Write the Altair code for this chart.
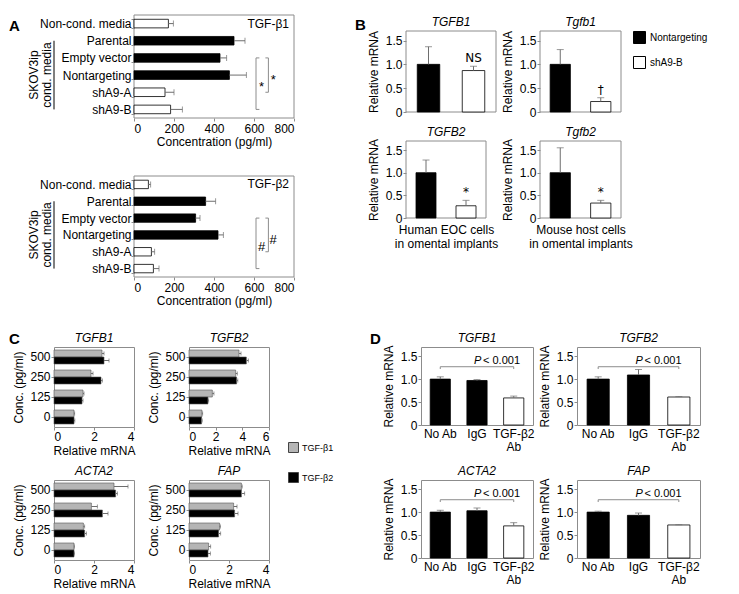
import altair as alt
import pandas as pd

FONT = "Liberation Sans"
GRAY = "#8c8c8c"
ERRC = "#6e6e6e"
NOBOX = alt.ViewBackground(stroke="transparent")

# ---------------- Panel A : TGF-beta ELISA ----------------
A_LABELS = ["Non-cond. media", "Parental", "Empty vector", "Nontargeting", "shA9-A", "shA9-B"]
A_SOLID = ["Parental", "Empty vector", "Nontargeting"]
A1_MEAN = [172, 500, 430, 477, 155, 183]
A1_HI = [197, 555, 463, 562, 200, 242]
A2_MEAN = [72, 358, 308, 420, 87, 97]
A2_HI = [83, 408, 330, 447, 103, 125]
A_DOMAIN = [0, 800]
A_TICKS = [0, 200, 400, 600, 800]
A_TITLES = ["TGF-β1", "TGF-β2"]
A_SIG = ["*", "#"]
A_GROUP_LABEL = ["SKOV3ip", "cond. media"]
A_BR_X = [610, 672]          # outer, inner bracket (pg/ml)
A_BR_TIP = [627, 657]
A_BR_FROM = ["Empty vector", "Empty vector"]
A_BR_TO = ["shA9-B", "shA9-A"]
A_SIG_X = [638, 696]

# ---------------- Panel B : in vivo qPCR ----------------
B_GROUPS = ["Nontargeting", "shA9-B"]
B_GENES = ["TGFB1", "Tgfb1", "TGFB2", "Tgfb2"]
B_MEAN = [[1.0, 0.87], [1.0, 0.22], [1.0, 0.27], [1.0, 0.33]]
B_HI = [[1.37, 0.96], [1.31, 0.30], [1.28, 0.39], [1.55, 0.39]]
B_MARK = ["NS", "†", "*", "*"]
B_XTITLE = [["Human EOC cells", "in omental implants"],
            ["Mouse host cells", "in omental implants"]]
REL_TICKS = [0, 0.5, 1.0, 1.5]

# ---------------- Panel C : dose response ----------------
C_CONC = ["500", "250", "125", "0"]
C_TREAT = ["TGF-β1", "TGF-β2"]
C_GENES = ["TGFB1", "TGFB2", "ACTA2", "FAP"]
C_XMAX = [4, 6, 4, 4]
C_B1_MEAN = [[2.4, 1.85, 1.45, 1.0], [3.75, 3.5, 1.75, 0.97], [3.0, 1.87, 1.47, 1.0], [2.62, 2.23, 1.53, 0.98]]
C_B1_HI = [[2.5, 1.95, 1.5, 1.03], [3.9, 3.62, 1.87, 1.02], [3.7, 2.17, 1.53, 1.02], [2.66, 2.4, 1.57, 1.08]]
C_B2_MEAN = [[2.5, 2.35, 1.4, 1.0], [4.3, 3.57, 1.42, 0.94], [3.08, 2.42, 1.53, 1.0], [2.62, 2.28, 1.48, 0.95]]
C_B2_HI = [[2.75, 2.42, 1.45, 1.04], [4.45, 3.66, 1.47, 0.99], [3.17, 2.7, 1.62, 1.02], [2.78, 2.45, 1.58, 1.07]]

# ---------------- Panel D : antibody blocking ----------------
D_CATS = ["No Ab", "IgG", "TGF-β2 Ab"]
D_GENES = ["TGFB1", "TGFB2", "ACTA2", "FAP"]
D_MEAN = [[1.0, 0.97, 0.59], [1.0, 1.09, 0.61], [1.0, 1.03, 0.70], [1.0, 0.93, 0.72]]
D_HI = [[1.05, 0.99, 0.63], [1.05, 1.21, 0.62], [1.04, 1.09, 0.77], [1.02, 0.98, 0.725]]
D_BR_Y = 1.27
D_BR_END = 1.22
D_P_Y = 1.33
D_P = ["P", "< 0.001"]

REL_LABEL = "datum.value == 0 ? '0' : format(datum.value, '.1f')"


def letter(ch, x, y):
    return alt.Chart(pd.DataFrame({"t": [ch]})).mark_text(
        align="left", baseline="top", fontSize=15, fontWeight="bold"
    ).encode(x=alt.value(x), y=alt.value(y), text="t:N")


def head(txt, x, y):
    return alt.Chart(pd.DataFrame({"t": [txt]})).mark_text(
        align="center", baseline="alphabetic", fontSize=12, fontStyle="italic"
    ).encode(x=alt.value(x), y=alt.value(y), text="t:N")


def frame(x0, x1, y0, y1):
    return alt.Chart(pd.DataFrame({"k": [0]})).mark_rect(
        fillOpacity=0, stroke=GRAY, strokeWidth=1
    ).encode(x=alt.value(x0), x2=alt.value(x1), y=alt.value(y0), y2=alt.value(y1))


def rel_axis():
    return alt.Axis(values=REL_TICKS, labelExpr=REL_LABEL, title="Relative mRNA",
                    tickSize=3, labelPadding=1, titlePadding=5)


# ---------- A ----------
A_LEFT = 80      # room inside the unit for the group label, plot starts here
A_PLOT_W = 160


def panel_a(mean, hi, title, sig, height, let=None):
    df = pd.DataFrame({"label": A_LABELS, "mean": mean, "hi": hi})
    xsc = alt.Scale(domain=A_DOMAIN, range=[A_LEFT, A_LEFT + A_PLOT_W], nice=False)
    xax = alt.Axis(values=A_TICKS, title="Concentration (pg/ml)", labelPadding=2,
                   titleX=A_LEFT + A_PLOT_W / 2, titleY=18, titleBaseline="top")
    ysc = alt.Scale(domain=A_LABELS, paddingInner=0.5, paddingOuter=0.25)
    yax = alt.Axis(title=None, tickBand="extent", labelPadding=0, offset=-A_LEFT)

    def X(f):
        return alt.X(f, type="quantitative", scale=xsc, axis=xax)

    def Y(f):
        return alt.Y(f, type="nominal", scale=ysc, axis=yax, sort=A_LABELS)

    box = alt.Chart(pd.DataFrame({"x0": [A_DOMAIN[0]], "x1": [A_DOMAIN[1]]})).mark_rect(
        fillOpacity=0, stroke=GRAY, strokeWidth=1
    ).encode(x=X("x0"), x2="x1", y=alt.value(0), y2=alt.value(height))

    base = alt.Chart(df)
    bars = base.mark_bar(stroke="black", strokeWidth=0.8).encode(
        x=X("mean"), y=Y("label"),
        fill=alt.condition(alt.FieldOneOfPredicate(field="label", oneOf=A_SOLID),
                           alt.value("black"), alt.value("white")))
    err = base.mark_rule(color=ERRC).encode(x=X("mean"), x2="hi", y=Y("label"))
    cap = base.mark_tick(color=ERRC, thickness=1, size=6).encode(x=X("hi"), y=Y("label"))

    br = pd.DataFrame({"x": A_BR_X, "tip": A_BR_TIP, "ylo": A_BR_FROM, "yhi": A_BR_TO})
    bc = alt.Chart(br)
    vline = bc.mark_rule(color=GRAY).encode(x=X("x"), y=Y("ylo"), y2="yhi")
    top = bc.mark_rule(color=GRAY).encode(x=X("x"), x2="tip", y=Y("ylo"))
    bot = bc.mark_rule(color=GRAY).encode(x=X("x"), x2="tip", y=Y("yhi"))

    s1 = alt.Chart(pd.DataFrame({"x": [A_SIG_X[0]], "label": ["Nontargeting"], "t": [sig]})).mark_text(
        fontSize=13, dy=12).encode(x=X("x"), y=Y("label"), text="t:N")
    s2 = alt.Chart(pd.DataFrame({"x": [A_SIG_X[1]], "label": ["Nontargeting"], "t": [sig]})).mark_text(
        fontSize=13, dy=5).encode(x=X("x"), y=Y("label"), text="t:N")

    ttl = alt.Chart(pd.DataFrame({"x": [A_DOMAIN[1]], "label": [A_LABELS[0]], "t": [title]})).mark_text(
        align="right", dx=-5, fontSize=12).encode(x=X("x"), y=Y("label"), text="t:N")

    gdf = alt.Chart(pd.DataFrame({"label": ["Nontargeting"]}))
    g1 = gdf.mark_text(text=A_GROUP_LABEL[0], angle=270, align="center", baseline="middle",
                       fontSize=12).encode(x=alt.value(-20), y=Y("label"))
    g2 = gdf.mark_text(text=A_GROUP_LABEL[1], angle=270, align="center", baseline="middle",
                       fontSize=12).encode(x=alt.value(-7), y=Y("label"))
    grp_line = alt.Chart(pd.DataFrame({"a": ["Parental"], "b": ["shA9-B"]})).mark_rule(color="black").encode(
        x=alt.value(0), y=Y("a"), y2="b")

    layers = [box, bars, err, cap, vline, top, bot, s1, s2, ttl, g1, g2, grp_line]
    if let:
        layers.append(letter(let, -45, 4))
    return alt.layer(*layers).properties(width=A_LEFT + A_PLOT_W, height=height, view=NOBOX)


# ---------- B ----------
B_LEGEND = alt.Legend(title=None, orient="none", legendX=93, legendY=16, symbolType="square",
                      symbolSize=144, symbolStrokeColor="black", symbolStrokeWidth=1,
                      labelFontSize=10, rowPadding=8, labelOffset=4, padding=0)


def panel_b(k, width, box_h, top_gap, xtitle=None, legend=False, let=None):
    height = box_h + top_gap
    df = pd.DataFrame({"group": B_GROUPS, "mean": B_MEAN[k], "hi": B_HI[k]})
    xsc = alt.Scale(domain=B_GROUPS, paddingInner=0.5, paddingOuter=0.25)
    if xtitle is None:
        xax = None
    else:
        xax = alt.Axis(title=xtitle, labels=False, ticks=False, titlePadding=6)
    ysc = alt.Scale(domain=[0, 1.7], range=[height, top_gap], nice=False)
    yax = rel_axis()

    def X(f):
        return alt.X(f, type="nominal", sort=B_GROUPS, scale=xsc, axis=xax)

    def Y(f):
        return alt.Y(f, type="quantitative", scale=ysc, axis=yax)

    base = alt.Chart(df)
    fsc = alt.Scale(domain=B_GROUPS, range=["black", "white"])
    if legend:
        fill = alt.Fill("group:N", scale=fsc, legend=B_LEGEND)
    else:
        fill = alt.Fill("group:N", scale=fsc, legend=None)
    bars = base.mark_bar(stroke="black", strokeWidth=0.8).encode(x=X("group"), y=Y("mean"), fill=fill)
    err = base.mark_rule(color=ERRC).encode(x=X("group"), y=Y("mean"), y2="hi")
    cap = base.mark_tick(color=ERRC, thickness=1, size=7).encode(x=X("group"), y=Y("hi"))
    note = alt.Chart(pd.DataFrame({"group": [B_GROUPS[1]], "hi": [B_HI[k][1]], "t": [B_MARK[k]]})).mark_text(
        baseline="bottom", dy=-1, fontSize=12, font="DejaVu Sans", color="black"
    ).encode(x=X("group"), y=Y("hi"), text="t:N")
    layers = [frame(0, width, top_gap, height), bars, err, cap, note,
              head(B_GENES[k], width / 2, top_gap - 5)]
    if let:
        layers.append(letter(let, -51, top_gap - 13))
    return alt.layer(*layers).properties(width=width, height=height, view=NOBOX)


# ---------- C ----------
C_LEGEND = alt.Legend(title=None, orient="none", legendX=99, legendY=95, symbolType="square",
                      symbolSize=100, symbolStrokeColor="#444", symbolStrokeWidth=1,
                      labelFontSize=9, rowPadding=15, labelOffset=3, padding=0)


def panel_c(k, width, height, legend=False, let=None):
    rows = []
    for j, c in enumerate(C_CONC):
        rows.append({"conc": c, "treat": C_TREAT[0], "mean": C_B1_MEAN[k][j], "hi": C_B1_HI[k][j]})
        rows.append({"conc": c, "treat": C_TREAT[1], "mean": C_B2_MEAN[k][j], "hi": C_B2_HI[k][j]})
    df = pd.DataFrame(rows)
    xsc = alt.Scale(domain=[0, C_XMAX[k]], nice=False)
    xax = alt.Axis(values=list(range(0, C_XMAX[k] + 1, 2)), title="Relative mRNA",
                   labelPadding=1, titlePadding=3)
    ysc = alt.Scale(domain=C_CONC, paddingInner=0.3, paddingOuter=0.15)
    yax = alt.Axis(title="Conc. (pg/ml)", labelPadding=1, titlePadding=4)

    def X(f):
        return alt.X(f, type="quantitative", scale=xsc, axis=xax)

    def Y():
        return alt.Y("conc:N", sort=C_CONC, scale=ysc, axis=yax)

    off = alt.YOffset("treat:N", sort=C_TREAT,
                      scale=alt.Scale(domain=C_TREAT, paddingInner=0, paddingOuter=0))
    csc = alt.Scale(domain=C_TREAT, range=["#b5b5b5", "black"])
    if legend:
        color = alt.Color("treat:N", scale=csc, legend=C_LEGEND)
    else:
        color = alt.Color("treat:N", scale=csc, legend=None)
    base = alt.Chart(df)
    bars = base.mark_bar(stroke="#555555", strokeWidth=0.6).encode(
        x=X("mean"), y=Y(), yOffset=off, color=color)
    err = base.mark_rule(color=ERRC).encode(x=X("mean"), x2="hi", y=Y(), yOffset=off)
    cap = base.mark_tick(color=ERRC, thickness=1, size=4).encode(x=X("hi"), y=Y(), yOffset=off)
    layers = [bars, err, cap, head(C_GENES[k], width / 2, -5)]
    if let:
        layers.append(letter(let, -45, -15))
    return alt.layer(*layers).properties(width=width, height=height)


# ---------- D ----------
def panel_d(k, width, height, let=None):
    df = pd.DataFrame({"cat": D_CATS, "mean": D_MEAN[k], "hi": D_HI[k]})
    xsc = alt.Scale(domain=D_CATS, paddingInner=0.45, paddingOuter=0.25)
    xax = alt.Axis(title=None, labelAngle=0, ticks=False, tickSize=0, labelPadding=3,
                   labelLineHeight=13,
                   labelExpr="datum.label == 'TGF-β2 Ab' ? ['TGF-β2', 'Ab'] : datum.label")
    ysc = alt.Scale(domain=[0, 1.7], nice=False)
    yax = rel_axis()

    def X(f):
        return alt.X(f, type="nominal", sort=D_CATS, scale=xsc, axis=xax)

    def Y(f):
        return alt.Y(f, type="quantitative", scale=ysc, axis=yax)

    base = alt.Chart(df)
    bars = base.mark_bar(stroke="black", strokeWidth=0.8).encode(
        x=X("cat"), y=Y("mean"),
        fill=alt.condition(alt.datum.cat == D_CATS[2], alt.value("white"), alt.value("black")))
    err = base.mark_rule(color=ERRC).encode(x=X("cat"), y=Y("mean"), y2="hi")
    cap = base.mark_tick(color=ERRC, thickness=1, size=7).encode(x=X("cat"), y=Y("hi"))

    bc = alt.Chart(pd.DataFrame({"a": [D_CATS[0]], "b": [D_CATS[2]], "y": [D_BR_Y], "y0": [D_BR_END]}))
    hl = bc.mark_rule(color=GRAY).encode(x=X("a"), x2="b", y=Y("y"))
    l1 = bc.mark_rule(color=GRAY).encode(x=X("a"), y=Y("y"), y2="y0")
    l2 = bc.mark_rule(color=GRAY).encode(x=X("b"), y=Y("y"), y2="y0")
    pc = alt.Chart(pd.DataFrame({"cat": [D_CATS[1]], "y": [D_P_Y]}))
    p1 = pc.mark_text(text=D_P[0], fontStyle="italic", align="left", baseline="alphabetic",
                      dx=-3, fontSize=11).encode(x=X("cat"), y=Y("y"))
    p2 = pc.mark_text(text=D_P[1], align="left", baseline="alphabetic",
                      dx=6, fontSize=11).encode(x=X("cat"), y=Y("y"))
    layers = [bars, err, cap, hl, l1, l2, p1, p2, head(D_GENES[k], width / 2, -5)]
    if let:
        layers.append(letter(let, -51, -15))
    return alt.layer(*layers).properties(width=width, height=height)


A1 = panel_a(A1_MEAN, A1_HI, A_TITLES[0], A_SIG[0], 103, "A")
A2 = panel_a(A2_MEAN, A2_HI, A_TITLES[1], A_SIG[1], 101)
colA = alt.vconcat(A1, A2, spacing=58, bounds="flush")

gridB = alt.concat(
    panel_b(0, 90, 81, 16, let="B"), panel_b(1, 81, 81, 16, legend=True),
    panel_b(2, 80, 77, 0, xtitle=B_XTITLE[0]), panel_b(3, 81, 77, 0, xtitle=B_XTITLE[1]),
    columns=2, spacing={"row": 29, "column": 44}, bounds="flush", align="each"
).resolve_scale(fill="independent")
row1 = alt.hconcat(colA, gridB, spacing=59)

gridC = alt.concat(
    panel_c(0, 80, 80, let="C"), panel_c(1, 80, 80, legend=True),
    panel_c(2, 80, 80), panel_c(3, 80, 80),
    columns=2, spacing={"row": 53, "column": 55}, bounds="flush", align="each"
).resolve_scale(color="independent")
gridD = alt.concat(
    panel_d(0, 112, 78, let="D"), panel_d(1, 123, 78),
    panel_d(2, 112, 78), panel_d(3, 123, 78),
    columns=2, spacing={"row": 55, "column": 44}, bounds="flush", align="each"
)
row2 = alt.hconcat(gridC, gridD, spacing=34)

chart = alt.vconcat(row1, row2, spacing=24).properties(padding=0)
chart = (chart.configure(font=FONT)
         .configure_view(stroke=GRAY, strokeWidth=1)
         .configure_axis(labelFont=FONT, titleFont=FONT, labelFontSize=12, titleFontSize=12,
                         titleFontWeight="normal", labelColor="black", titleColor="black",
                         tickColor=GRAY, tickSize=3, grid=False, domain=False)
         .configure_text(font=FONT, color="black")
         .configure_legend(labelFont=FONT, labelColor="black"))

chart.save("out.html", embed_options={"renderer": "svg", "actions": False})
